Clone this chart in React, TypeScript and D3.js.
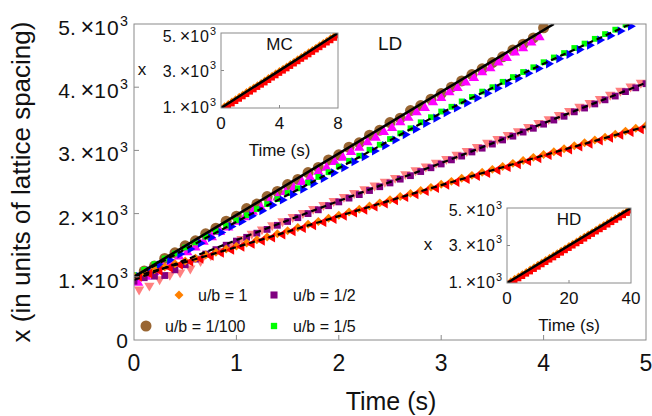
import React from 'react';
import * as d3 from 'd3';

// sample times (s) for the main panel
const tA = [0, 0.1, 0.2, 0.3, 0.4, 0.5, 0.6, 0.7, 0.8, 0.9, 1.0, 1.1, 1.2, 1.3, 1.4, 1.5, 1.6, 1.7, 1.8, 1.9, 2.0,
  2.1, 2.2, 2.3, 2.4, 2.5, 2.6, 2.7, 2.8, 2.9, 3.0, 3.1, 3.2, 3.3, 3.4, 3.5, 3.6, 3.7, 3.8, 3.9, 4.0,
  4.1, 4.2, 4.3, 4.4, 4.5, 4.6, 4.7, 4.8, 4.9, 5.0];
const tB = [0.05, 0.15, 0.25, 0.35, 0.45, 0.55, 0.65, 0.75, 0.85, 0.95, 1.05, 1.15, 1.25, 1.35, 1.45, 1.55, 1.65,
  1.75, 1.85, 1.95, 2.05, 2.15, 2.25, 2.35, 2.45, 2.55, 2.65, 2.75, 2.85, 2.95, 3.05, 3.15, 3.25, 3.35, 3.45,
  3.55, 3.65, 3.75, 3.85, 3.95, 4.05, 4.15, 4.25, 4.35, 4.45, 4.55, 4.65, 4.75, 4.85, 4.95];
const tM = [0.04, 0.12, 0.2, 0.28, 0.36, 0.44, 0.52, 0.6, 0.68, 0.76, 0.84, 0.92, 1.0, 1.08, 1.16, 1.24, 1.32,
  1.4, 1.48, 1.56, 1.64, 1.72, 1.8, 1.88, 1.96, 2.04, 2.12, 2.2, 2.28, 2.36, 2.44, 2.52, 2.6, 2.68, 2.76, 2.84,
  2.92, 3.0, 3.08, 3.16, 3.24, 3.32, 3.4, 3.48, 3.56, 3.64, 3.72, 3.8, 3.88, 3.96];

// x positions (lattice units)
const brownVals = [985, 1090, 1170, 1290, 1380, 1490, 1570, 1680, 1770, 1880, 1960, 2080, 2150, 2270, 2350, 2460,
  2540, 2650, 2730, 2850, 2930, 3050, 3120, 3240, 3320, 3440, 3510, 3630, 3710, 3810, 3900, 4000, 4100, 4200,
  4290, 4390, 4480, 4590, 4680, 4780, 4940];
const magentaVals = [905, 1000, 1070, 1160, 1230, 1320, 1390, 1465, 1555, 1625, 1710, 1780, 1870, 1940, 2030, 2095,
  2185, 2255, 2340, 2410, 2500, 2570, 2660, 2725, 2815, 2885, 2975, 3040, 3130, 3200, 3290, 3355, 3445, 3515,
  3605, 3670, 3760, 3830, 3920, 3985, 4075, 4145, 4235, 4300, 4390, 4460, 4550, 4615, 4705, 4790];
const greenVals = [1025, 1110, 1200, 1290, 1370, 1465, 1545, 1635, 1720, 1810, 1895, 1975, 2070, 2150, 2230, 2325,
  2400, 2490, 2580, 2655, 2745, 2835, 2915, 3010, 3090, 3180, 3270, 3350, 3445, 3525, 3615, 3690, 3775, 3845,
  3930, 4000, 4085, 4160, 4240, 4315, 4395, 4470, 4540, 4620, 4690, 4765, 4840, 4910, 4990];
const blueVals = [1005, 1095, 1185, 1265, 1360, 1440, 1530, 1620, 1700, 1795, 1875, 1965, 2045, 2135, 2215, 2305,
  2385, 2475, 2555, 2645, 2725, 2820, 2900, 2990, 3075, 3165, 3250, 3335, 3425, 3510, 3595, 3670, 3750, 3830,
  3905, 3985, 4060, 4140, 4220, 4295, 4370, 4450, 4520, 4595, 4665, 4745, 4815, 4890, 4965];
const purpleVals = [930, 985, 1010, 1020, 1110, 1190, 1280, 1360, 1430, 1500, 1565, 1625, 1690, 1750, 1815, 1875,
  1935, 2000, 2060, 2125, 2185, 2245, 2300, 2365, 2425, 2485, 2545, 2600, 2665, 2725, 2785, 2850, 2910, 2975,
  3035, 3100, 3165, 3225, 3290, 3350, 3415, 3480, 3540, 3610, 3670, 3735, 3800, 3860, 3930, 3990, 4055];
const pinkVals = [800, 860, 960, 1030, 1070, 1130, 1250, 1340, 1410, 1500, 1600, 1680, 1750, 1815, 1880, 1945,
  2010, 2075, 2135, 2200, 2265, 2325, 2385, 2445, 2505, 2565, 2625, 2685, 2745, 2805, 2865, 2930, 2990, 3055,
  3120, 3180, 3245, 3305, 3370, 3435, 3495, 3560, 3625, 3690, 3750, 3815, 3880, 3945, 4010, 4070];
const orangeVals = [1005, 1060, 1110, 1155, 1205, 1250, 1295, 1345, 1390, 1440, 1485, 1535, 1585, 1630, 1680, 1730,
  1780, 1830, 1875, 1925, 1975, 2025, 2070, 2120, 2170, 2220, 2270, 2320, 2365, 2415, 2465, 2510, 2560, 2605,
  2655, 2700, 2745, 2795, 2840, 2890, 2935, 2980, 3025, 3075, 3120, 3165, 3210, 3255, 3305, 3350, 3395];
const redVals = [1000, 1050, 1095, 1145, 1190, 1240, 1285, 1330, 1380, 1425, 1475, 1520, 1570, 1620, 1670, 1720,
  1770, 1815, 1865, 1915, 1965, 2015, 2060, 2110, 2160, 2210, 2260, 2305, 2355, 2405, 2455, 2500, 2545, 2595,
  2640, 2690, 2735, 2780, 2830, 2875, 2925, 2970, 3015, 3060, 3105, 3155, 3200, 3245, 3290, 3335];

// fitted curves
const fitSolidT = [0, 4.1];
const fitSolidV = [1000, 5000];
const fitGBT = [0, 1, 2, 3, 4, 4.85];
const fitGBV = [1000, 1870, 2720, 3590, 4370, 5000];
const fitPPT = [0, 1, 2, 3, 4, 5];
const fitPPV = [950, 1580, 2200, 2800, 3430, 4070];
const fitORT = [0, 1, 2, 3, 4, 5];
const fitORV = [1000, 1470, 1960, 2450, 2920, 3380];

// insets
const tMC = [0, 0.25, 0.5, 0.75, 1, 1.25, 1.5, 1.75, 2, 2.25, 2.5, 2.75, 3, 3.25, 3.5, 3.75, 4, 4.25, 4.5, 4.75,
  5, 5.25, 5.5, 5.75, 6, 6.25, 6.5, 6.75, 7, 7.25, 7.5, 7.75, 8];
const redMC = [870, 990, 1110, 1230, 1360, 1480, 1610, 1730, 1860, 1980, 2110, 2230, 2350, 2480, 2610, 2730, 2860,
  2980, 3100, 3230, 3360, 3480, 3610, 3730, 3850, 3980, 4110, 4230, 4360, 4480, 4600, 4730, 4860];
const orangeMC = [1050, 1180, 1300, 1430, 1550, 1680, 1800, 1930, 2050, 2180, 2300, 2420, 2550, 2680, 2800, 2930,
  3050, 3170, 3300, 3430, 3550, 3680, 3800, 3920, 4050, 4180, 4300, 4430, 4550, 4670, 4800, 4930, 5050];
const tHD = [0, 1.25, 2.5, 3.75, 5, 6.25, 7.5, 8.75, 10, 11.25, 12.5, 13.75, 15, 16.25, 17.5, 18.75, 20, 21.25,
  22.5, 23.75, 25, 26.25, 27.5, 28.75, 30, 31.25, 32.5, 33.75, 35, 36.25, 37.5, 38.75, 40];
const redHD = [865, 995, 1115, 1235, 1360, 1485, 1605, 1735, 1855, 1985, 2105, 2235, 2355, 2480, 2605, 2735, 2855,
  2985, 3105, 3225, 3355, 3485, 3605, 3735, 3855, 3975, 4105, 4235, 4355, 4485, 4605, 4725, 4855];
const orangeHD = [1045, 1175, 1305, 1425, 1555, 1675, 1805, 1925, 2055, 2175, 2305, 2425, 2545, 2675, 2805, 2925,
  3055, 3175, 3295, 3425, 3555, 3675, 3795, 3925, 4055, 4175, 4295, 4425, 4555, 4675, 4795, 4925, 5045];
const insetLineT = [0, 1];
const insetLineV = [1000, 5000];

const xTicks = [0, 1, 2, 3, 4, 5];
const yTicks = [0, 1000, 2000, 3000, 4000, 5000];
const legendItems = [
  { label: 'u/b = 1', color: '#ff8000', shape: 'diamond' },
  { label: 'u/b = 1/2', color: '#800080', shape: 'square' },
  { label: 'u/b = 1/100', color: '#996633', shape: 'circle' },
  { label: 'u/b = 1/5', color: '#00ff00', shape: 'square' },
];

const FONT = '"Liberation Sans", Arial, Helvetica, sans-serif';
const FRAME = '#8a8a8a';

const x = d3.scaleLinear().domain([0, 5]).range([134, 646]);
const y = d3.scaleLinear().domain([0, 5000]).range([340, 24]);

const symPath = (type: d3.SymbolType, size: number) => d3.symbol().type(type).size(size)() || '';
const SHAPES: Record<string, { d: string; rot: number }> = {
  circle: { d: symPath(d3.symbolCircle, 95), rot: 0 },
  up: { d: symPath(d3.symbolTriangle, 46), rot: 0 },
  down: { d: symPath(d3.symbolTriangle, 46), rot: 180 },
  right: { d: symPath(d3.symbolTriangle, 36), rot: 90 },
  left: { d: symPath(d3.symbolTriangle, 42), rot: -90 },
  square: { d: symPath(d3.symbolSquare, 46), rot: 0 },
  smallSquare: { d: symPath(d3.symbolSquare, 34), rot: 0 },
  diamond: { d: symPath(d3.symbolSquare, 40), rot: 45 },
  legendDiamond: { d: symPath(d3.symbolSquare, 40), rot: 45 },
  legendSquare: { d: symPath(d3.symbolSquare, 50), rot: 0 },
  legendGreen: { d: symPath(d3.symbolSquare, 40), rot: 0 },
  insetRed: { d: symPath(d3.symbolSquare, 30), rot: 0 },
  insetOrange: { d: symPath(d3.symbolSquare, 12), rot: 45 },
};

const Marks = ({ ts, vs, sx, sy, shape, color }: any) => (
  <g fill={color}>
    {vs.map((v: number, i: number) => (
      <path key={i} d={SHAPES[shape].d}
        transform={`translate(${sx(ts[i])},${sy(v)}) rotate(${SHAPES[shape].rot})`} />
    ))}
  </g>
);

// mantissa + "×10³" label, Mathematica style
const Sci = ({ x0, y0, m, fs }: any) => (
  <text x={x0} y={y0} fontSize={fs} textAnchor="end" fontFamily={FONT} fill="#111">
    {m}.<tspan dx={fs * 0.22} fontSize={fs * 1.12}>{'\u00d7'}</tspan>
    <tspan letterSpacing={fs * 0.06}>10</tspan>
    <tspan dy={-fs * 0.45} fontSize={fs * 0.68}>3</tspan>
  </text>
);

const Inset = ({ left, top, w, h, tmax, xTickVals, ts, red, orange, title, labelOffsets }: any) => {
  const sx = d3.scaleLinear().domain([0, tmax]).range([left, left + w]);
  const sy = d3.scaleLinear().domain([1000, 5000]).range([top + h, top]);
  const line = d3.line<number>().x((_, i) => sx(insetLineT[i] * tmax)).y((v) => sy(v));
  const clipId = `clip-${title}`;
  return (
    <g>
      <clipPath id={clipId}><rect x={left} y={top} width={w} height={h} /></clipPath>
      <rect x={left} y={top} width={w} height={h} fill="#fff" />
      <g clipPath={`url(#${clipId})`}>
        <Marks ts={ts} vs={red} sx={sx} sy={sy} shape="insetRed" color="#ff0000" />
        <Marks ts={ts} vs={orange} sx={sx} sy={sy} shape="insetOrange" color="#ff8000" />
        <path d={line(insetLineV) || ''} stroke="#000" strokeWidth={2.6} fill="none" />
      </g>
      <rect x={left} y={top} width={w} height={h} fill="none" stroke={FRAME} strokeWidth={1} />
      <line x1={sx(xTickVals[1])} x2={sx(xTickVals[1])} y1={top + h} y2={top + h - 3} stroke={FRAME} />
      <line x1={left} x2={left + 3} y1={sy(3000)} y2={sy(3000)} stroke={FRAME} />
      {[5, 3, 1].map((m, i) => (
        <Sci key={m} x0={left - 5} y0={sy(m * 1000) + labelOffsets[i]} m={m} fs={16} />
      ))}
      {xTickVals.map((v: number) => (
        <text key={v} x={sx(v)} y={top + h + 21} fontSize={17} textAnchor="middle" fontFamily={FONT} fill="#111">{v}</text>
      ))}
      <text x={left - 79} y={sy(3000) + 4} fontSize={17} textAnchor="middle" fontFamily={FONT} fill="#111">x</text>
      <text x={left + w / 2} y={top + 17} fontSize={17} textAnchor="middle" fontFamily={FONT} fill="#111">{title}</text>
      <text x={left + w / 2} y={top + h + 48} fontSize={17} textAnchor="middle" fontFamily={FONT} fill="#111">Time (s)</text>
    </g>
  );
};

export default function App() {
  const fit = (ts: number[]) => d3.line<number>().x((_, i) => x(ts[i])).y((v) => y(v)).curve(d3.curveMonotoneX);
  return (
    <div style={{ position: 'absolute', left: 0, top: 0, width: 652, height: 416, background: '#fff' }}>
      <svg width={652} height={416} viewBox="0 0 652 416" style={{ display: 'block' }}>
        <clipPath id="mainClip"><rect x={134} y={24} width={512} height={316} /></clipPath>
        <g clipPath="url(#mainClip)">
          <Marks ts={tA} vs={brownVals} sx={x} sy={y} shape="circle" color="#996633" />
          <Marks ts={tM} vs={magentaVals} sx={x} sy={y} shape="up" color="#ff00ff" />
          <Marks ts={tA} vs={greenVals} sx={x} sy={y} shape="smallSquare" color="#00ff00" />
          <Marks ts={tB} vs={blueVals} sx={x} sy={y} shape="right" color="#0000ff" />
          <Marks ts={tB} vs={pinkVals} sx={x} sy={y} shape="down" color="#ff8080" />
          <Marks ts={tA} vs={purpleVals} sx={x} sy={y} shape="square" color="#800080" />
          <Marks ts={tA} vs={orangeVals} sx={x} sy={y} shape="diamond" color="#ff8000" />
          <Marks ts={tB} vs={redVals} sx={x} sy={y} shape="left" color="#ff0000" />
          <path d={fit(fitSolidT)(fitSolidV) || ''} stroke="#000" strokeWidth={2.6} fill="none" />
          <path d={fit(fitGBT)(fitGBV) || ''} stroke="#000" strokeWidth={2.2} strokeDasharray="6 4" fill="none" />
          <path d={fit(fitPPT)(fitPPV) || ''} stroke="#000" strokeWidth={2.2} strokeDasharray="6 4" fill="none" />
          <path d={fit(fitORT)(fitORV) || ''} stroke="#000" strokeWidth={2.2} strokeDasharray="6 4" fill="none" />
        </g>
        <rect x={134} y={24} width={512} height={316} fill="none" stroke={FRAME} strokeWidth={1} />
        {xTicks.slice(1, -1).map((t) => (
          <line key={t} x1={x(t)} x2={x(t)} y1={340} y2={335} stroke={FRAME} />
        ))}
        {yTicks.slice(1, -1).map((v) => (
          <line key={v} x1={134} x2={139} y1={y(v)} y2={y(v)} stroke={FRAME} />
        ))}
        {xTicks.map((t) => (
          <text key={t} x={x(t)} y={371} fontSize={23} textAnchor="middle" fontFamily={FONT} fill="#111">{t}</text>
        ))}
        {yTicks.map((v) =>
          v === 0 ? (
            <text key={v} x={128} y={348} fontSize={21} textAnchor="end" fontFamily={FONT} fill="#111">0</text>
          ) : (
            <Sci key={v} x0={128} y0={y(v) + 11} m={v / 1000} fs={21} />
          )
        )}
        <text x={391} y={410} fontSize={25} textAnchor="middle" fontFamily={FONT} fill="#111">Time (s)</text>
        <text transform="translate(30,182) rotate(-90)" fontSize={26} textAnchor="middle" fontFamily={FONT} fill="#111">
          x (in units of lattice spacing)
        </text>
        <text x={378} y={50} fontSize={19} fontFamily={FONT} fill="#111">LD</text>

        {legendItems.map((it, i) => {
          const cx = i % 2 === 0 ? (i === 0 ? 179 : 146) : 274;
          const cy = i < 2 ? 295 : 326;
          const tx = i % 2 === 0 ? (i === 0 ? 198 : 165) : 293;
          const key = it.shape === 'diamond' ? 'legendDiamond' : it.shape === 'circle' ? 'circle' : i === 1 ? 'legendSquare' : 'legendGreen';
          return (
            <g key={it.label}>
              <path d={SHAPES[key].d} fill={it.color} transform={`translate(${cx},${cy}) rotate(${SHAPES[key].rot})`} />
              <text x={tx} y={cy + 6} fontSize={16} fontFamily={FONT} fill="#111">{it.label}</text>
            </g>
          );
        })}

        <Inset left={221} top={33} w={117} h={75} tmax={8} xTickVals={[0, 4, 8]} ts={tMC} red={redMC}
          orange={orangeMC} title="MC" labelOffsets={[9, 6, 5]} />
        <Inset left={507} top={208} w={124} h={75} tmax={40} xTickVals={[0, 20, 40]} ts={tHD} red={redHD}
          orange={orangeHD} title="HD" labelOffsets={[8, 5, 5]} />
      </svg>
    </div>
  );
}
